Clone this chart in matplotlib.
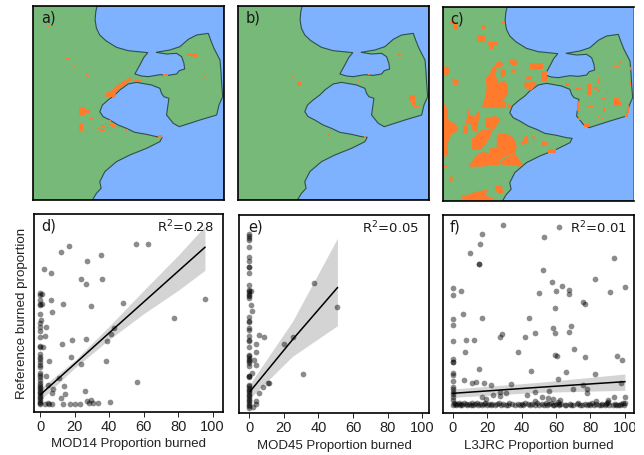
#!/usr/bin/env python3
"""Burned area maps and scatter comparison against reference proportion."""

import matplotlib
matplotlib.use("Agg")
import matplotlib.pyplot as plt
from matplotlib.patches import Polygon, Rectangle

# coastline of the sea polygon, map units (same for the three maps)
coast_x = [232, 228, 226, 230, 240, 258, 290, 325, 384, 372, 360, 345, 365, 385, 420, 445, 470, 478, 494,
           492, 485, 470, 440, 408, 450, 480, 505, 530, 565, 572, 582, 600, 603, 605, 608, 597, 590, 540,
           478, 460, 440, 447, 432, 425, 420, 395, 350, 325, 300, 285, 265, 248, 240, 250, 270, 295, 320,
           345, 380, 410, 427, 420, 380, 330, 290, 255, 240, 244, 230, 218, 612, 612]
coast_y = [18, 35, 60, 85, 105, 122, 142, 152, 158, 172, 195, 222, 228, 230, 224, 226, 222, 212, 207,
           190, 170, 160, 162, 157, 150, 140, 118, 105, 100, 120, 145, 180, 215, 250, 290, 315, 345, 360,
           380, 370, 345, 295, 290, 280, 265, 255, 247, 252, 270, 285, 300, 315, 335, 350, 360, 375, 385,
           397, 403, 410, 412, 425, 445, 465, 485, 515, 545, 565, 580, 600, 600, 18]

# burned patches: x, y, w, h in map units
burn_a = [(82, 77, 5, 5), (140, 174, 11, 5), (160, 199, 5, 4), (183, 126, 5, 4), (198, 220, 8, 5),
          (202, 227, 6, 6), (502, 160, 30, 7), (518, 166, 14, 8), (430, 221, 14, 6), (548, 227, 7, 7),
          (341, 240, 24, 7), (177, 322, 20, 24), (190, 330, 20, 10), (212, 353, 8, 7),
          (177, 372, 12, 22), (292, 380, 8, 5), (318, 388, 7, 5), (413, 405, 12, 8),
          (222, 392, 6, 4), (232, 384, 10, 4), (244, 376, 12, 4), (252, 368, 14, 4), (240, 388, 16, 4),
          (258, 380, 14, 4), (268, 372, 18, 4), (262, 386, 12, 5), (268, 360, 6, 5), (278, 378, 8, 4)]
burn_b = [(201, 229, 8, 5), (216, 245, 12, 14), (308, 248, 8, 4), (397, 240, 6, 4), (428, 222, 8, 4),
          (519, 163, 10, 6), (553, 284, 18, 18), (560, 306, 10, 10), (566, 317, 18, 5), (309, 402, 7, 5),
          (418, 409, 5, 5)]
burn_c = [(60, 60, 18, 8), (70, 70, 14, 14), (155, 72, 14, 12), (215, 62, 10, 6), (142, 102, 24, 20),
          (176, 122, 30, 12), (178, 130, 12, 14), (302, 186, 38, 18), (334, 210, 16, 30), (336, 422, 16, 14),
          (355, 445, 22, 12), (405, 246, 12, 8), (438, 262, 16, 6), (470, 248, 12, 34), (490, 258, 14, 6),
          (500, 215, 14, 4), (505, 230, 4, 16), (552, 195, 16, 4), (568, 182, 5, 8), (598, 198, 4, 8),
          (598, 240, 5, 12), (552, 290, 14, 24), (562, 304, 10, 10), (590, 315, 8, 20), (585, 335, 8, 12),
          (442, 300, 6, 30), (470, 316, 20, 3), (512, 292, 12, 4), (520, 320, 4, 14), (500, 345, 8, 4),
          (530, 270, 5, 10), (505, 265, 4, 8), (462, 368, 18, 10), (444, 350, 6, 8), (515, 350, 5, 5),
          (128, 412, 30, 36), (150, 395, 30, 20), (181, 440, 30, 40), (205, 400, 20, 30), (170, 470, 40, 22),
          (100, 375, 15, 22), (170, 300, 60, 20), (206, 248, 30, 34), (150, 470, 24, 26), (225, 470, 30, 22)]

# larger burned areas as outlines, map units
blobs_a = [[(257, 278), (275, 272), (300, 250), (330, 232), (335, 240), (305, 262), (288, 278), (288, 292), (258, 290)]]
blobs_c = [[(196, 194), (201, 207), (196, 222), (206, 242), (206, 257), (236, 277), (221, 297), (196, 312), (176, 317),
            (156, 322), (166, 287), (171, 257), (166, 232), (181, 217), (186, 202)],
           [(196, 185), (216, 182), (221, 192), (206, 202), (196, 197)],
           [(239, 175), (259, 177), (263, 192), (249, 195), (239, 185)],
           [(213, 207), (228, 205), (228, 222), (214, 232)],
           [(211, 242), (226, 239), (226, 255), (211, 257)],
           [(245, 205), (258, 205), (256, 215), (246, 215)],
           [(301, 192), (329, 185), (331, 202), (316, 207), (303, 202)],
           [(289, 227), (306, 225), (303, 237), (289, 237)],
           [(283, 245), (319, 242), (313, 259), (303, 269), (289, 262), (283, 255)],
           [(43, 195), (61, 202), (59, 217), (46, 225), (43, 217)],
           [(66, 232), (86, 237), (86, 252), (73, 252)],
           [(233, 309), (243, 312), (243, 322), (234, 322)],
           [(43, 307), (53, 322), (56, 357), (81, 372), (86, 387), (71, 397), (61, 407), (53, 432), (56, 462), (43, 467)],
           [(43, 492), (51, 492), (51, 499), (43, 499)],
           [(116, 322), (121, 342), (136, 347), (146, 329), (151, 342), (146, 362), (141, 392), (126, 387), (123, 367),
            (106, 372), (111, 352)],
           [(166, 352), (196, 345), (211, 352), (203, 372), (191, 387), (166, 377)],
           [(156, 387), (191, 382), (179, 412), (166, 432), (151, 447), (131, 447), (126, 437), (131, 412), (143, 397)],
           [(201, 407), (226, 397), (251, 409), (261, 437), (256, 457), (226, 467), (211, 477), (201, 447)],
           [(141, 462), (161, 452), (176, 457), (196, 467), (181, 482), (161, 497), (116, 497), (126, 482)],
           [(256, 457), (266, 472), (279, 492), (271, 497), (241, 492), (221, 492), (206, 487), (226, 472)],
           [(281, 419), (286, 402), (293, 405), (296, 425), (276, 432), (269, 427)],
           [(304, 405), (316, 407), (313, 417)],
           [(61, 527), (68, 525), (69, 542), (59, 542)],
           [(196, 555), (216, 552), (221, 575), (209, 579), (196, 567)],
           [(96, 585), (121, 579), (141, 572), (176, 565), (166, 582), (191, 592), (186, 600), (111, 600), (96, 592)]]

x_d = [12, 16.8, 55.5, 62.5, 35, 27.3, 2.3, 6.2, 23.4, 35.8, 26.3, 95.5, 6.4, 13.3, 48.2, 29.6, 6.6,
       77.4, 3.1, 43, 2.5, 41, 38.7, 18.4, 26.7, 12.6, 1.7, 18, 5.2, 38.3, 23.6, 3.3, 11, 56, 4.3, 13.7,
       7.3, 25.7, 7, 14.3, 11.8, 27, 29.6, 28, 30.6, 33.7, 40.6, 13, 17.2, 20, 23.2, 6.6, 4.3, 5.2, 2.7, 0.8, 0.8, 0.4]
y_d = [91, 94.4, 96, 95.6, 89.4, 85.8, 80.8, 78.2, 75, 74.8, 72, 62.8, 62, 60, 60.4, 58.4, 55,
       51.4, 46, 45.6, 40.8, 41.8, 37.8, 38, 38.6, 35.8, 34, 28, 25.4, 25.6, 23.8, 16.6, 15.2, 13, 11.2, 10.4,
       9, 7.8, 6.2, 5.8, 3.6, 1.8, 2.4, 0.6, 0.2, 0.2, 1, 0, 0, 0, 0, 0, 0.6, 0, 0, 66, 60, 50]
zero_d = [66.6, 65.2, 62.2, 60, 59.2, 53.8, 48.2, 46.2, 43.8, 40.2, 34.6, 34.2, 29.8, 28.2, 26.6, 25.2, 23.2,
          22.2, 18.2, 17.2, 16.2, 14.2, 12.2, 11.2, 10.2, 9.2, 8.2, 7.2, 6.2, 5.2, 4.2, 3.2, 2.2, 1.2, 0.2, 0]

zero_e = [104.6, 103.4, 102, 100.6, 96.6, 90.6, 88, 84.6, 84.6, 81.2, 73.8, 71, 70, 69, 68, 67, 66,
          54.6, 52, 51.4, 48, 46.6, 43.4, 41, 40.4, 36.6, 32, 31, 30, 29, 28, 27, 25.4, 19.4, 19, 18.6,
          14, 13, 12, 11, 10, 9, 8, 7, 6, 5, 4, 3, 2, 1, 0]
x_e = [1.2, 0.8, 1.4, 5.4, 8.7, 3.7, 3.9, 2.5, 4, 1.5, 37.3, 51, 25, 20.3, 31, 11.2, 10.8, 8.1, 5.4, 3.7, 3.7, 1.9]
y_e = [70, 62, 58, 43.8, 42.8, 38.6, 33.4, 28.6, 25.8, 21, 75.2, 60.6, 42.6, 38.6, 20.4, 15.2, 15, 12.6, 9, 4.4, 2.4, 0.6]

x_f = [29.4, 61.9, 17, 52.8, 16, 10.2, 93.6, 15.1, 15.1, 52.6, 82.8, 57.6, 63.4, 100, 0, 4.8, 67.5, 60.1, 91.1,
       50.1, 67.5, 0, 75.8, 76.8, 59.2, 6, 44.3, 17, 0, 0, 68.7, 58.4, 67.3, 59.4, 47.8, 28.6, 27.7, 42, 0, 7.7,
       12.2, 70.4, 38.1, 7.2, 59.4, 60.5, 95.2, 76.8, 98.4, 0, 0, 0, 15.5, 45.6, 66, 82.4, 0, 0, 60.9, 6.4, 0, 13.7,
       11.4, 18.2, 22, 33.8, 75.8, 97.7, 69.6, 47.6, 55.9, 77.8, 78.3, 0, 0, 0, 0, 30.7, 27.7, 23.6, 27.7, 43.1, 16.8,
       19.3, 51.8, 55.3, 58.4, 62.5, 93.4, 100, 90.3, 83, 47.8, 0, 0]
y_f = [107.8, 106.6, 102.6, 100.8, 96.8, 91.2, 88.2, 84.6, 84.6, 81.2, 75.4, 74, 71.4, 71, 70, 68.6, 69.2, 68.4, 68,
       67.2, 66.8, 66, 62, 60.8, 58.2, 54.6, 52.4, 52.4, 51.6, 48, 47.4, 46.2, 43.8, 43, 43, 42.8, 40.8, 40.6, 38.6, 38.8,
       38.8, 33.4, 32, 31.8, 30.2, 29.2, 29.4, 29, 26.8, 27.4, 26, 25.6, 21.4, 20.4, 19.6, 18.8, 19, 18.2, 15.4, 15, 14.2, 13.8,
       13.2, 13, 11.8, 12.6, 12, 13.2, 9.6, 7.8, 8.4, 9.4, 7.2, 10.6, 9.6, 8, 6.6, 7.2, 8, 6, 5.2, 6, 4.6, 3.8, 4.8, 4.2, 3.6, 3.2, 4.6, 4.8, 3, 2.6, 2.4, 4.6, 3.2]
floor_f = [0, 0.6, 1.2, 2, 2.8, 3.4, 4, 5, 5.6, 6.5, 7.5, 8.5, 9.5, 10.5, 11, 12, 13, 14, 15, 16, 17, 18, 19, 20, 21, 22,
           23, 24.5, 26, 27, 28, 29.5, 31, 32, 33, 34.5, 36, 38, 39, 40, 41, 42, 44, 45, 46, 48, 49, 50, 52, 53, 54, 55,
           56, 57, 58, 59, 60, 61, 61.5, 62, 63, 65, 66, 68, 69, 70, 72, 73, 74, 75, 77, 78, 79, 80, 81, 82, 83, 85, 86, 87,
           88.5, 89, 89.5, 90, 91, 93, 94, 95, 96, 97, 98, 99, 99.5, 100]
floor_fy = [0, 1, 0.4, 0, 0.6, 1, 0.2, 0.6, 0, 1, 0.4, 0, 0.8, 0.2, 1.2, 0, 0.4, 1, 0.2, 0.6, 0, 0.4, 1, 0, 0.6, 0.2,
            0.8, 0, 0.4, 1, 0, 0.6, 0.2, 0, 1, 0.4, 0, 0.8, 0.2, 0.6, 0, 1.2, 0.4, 0, 0.8, 0.2, 1.4, 0, 0.6, 0.2, 1, 0,
            0.4, 1.2, 0.2, 0, 0.8, 1.6, 0.4, 0, 0.6, 0.2, 0, 0.8, 0.2, 0, 0.4, 1, 0, 0.2, 0.6, 0, 0.4, 0, 1, 0, 0.4, 0.2, 0, 0.6,
            0, 0.4, 1.2, 1.8, 0.2, 0, 0.6, 0, 0.2, 0, 0.6, 1, 0.2, 1.4]

# fit lines and confidence bands
fit_x_d = [0, 20, 40, 60, 80, 95.5]
fit_d = [5.4, 23.9, 42.5, 61, 79.5, 93.8]
low_d = [2, 21.5, 38.5, 54, 68, 80]
up_d = [9, 26, 46.5, 68, 89, 106.6]
fit_x_e = [0.5, 25, 51]
fit_e = [10, 41, 72.2]
low_e = [6, 31, 49.4]
up_e = [14.6, 52, 101.8]
fit_x_f = [0, 50, 100]
fit_f = [7, 10.6, 14]
low_f = [4.6, 7.6, 8.8]
up_f = [9.6, 13.6, 18.6]

GREEN = "#76b979"
BLUE = "#7eb2ff"
ORANGE = "#ff7a2c"
W, H = 644, 455
SANS = "Liberation Sans"


def ax_px(left, top, right, bottom):
    return [left / W, 1 - bottom / H, (right - left) / W, (bottom - top) / H]


def draw_map(box, patches, blobs, label):
    ax = fig.add_axes(ax_px(*box), facecolor=GREEN)
    ax.add_patch(Polygon(list(zip(coast_x, coast_y)), closed=True, facecolor=BLUE,
                         edgecolor="#2f4f4f", linewidth=0.8, zorder=1))
    for x, y, w, h in patches:
        ax.add_patch(Rectangle((x, y), w, h, facecolor=ORANGE, edgecolor="none", zorder=2))
    for blob in blobs:
        ax.add_patch(Polygon(blob, closed=True, facecolor=ORANGE, edgecolor="none", zorder=2))
    ax.set_xlim(40, 612)
    ax.set_ylim(600, 18)
    ax.set_xticks([])
    ax.set_yticks([])
    for spine in ax.spines.values():
        spine.set_linewidth(1.2)
    ax.text(0.04, 0.94, label, transform=ax.transAxes, fontsize=10.5, ha="left", va="center", color="#1a1a1a")
    return ax


def draw_scatter(box, xs, ys, xlim, ylim, fit, low, up, fit_x, xlabel, label, label_x, r2, r2_x):
    ax = fig.add_axes(ax_px(*box))
    ax.fill_between(fit_x, low, up, color="#d4d4d4", linewidth=0, zorder=1)
    ax.scatter(xs, ys, s=17, color="black", alpha=0.45, linewidths=0, zorder=2)
    ax.plot(fit_x, fit, color="black", linewidth=1.1, zorder=3)
    ax.set_xlim(*xlim)
    ax.set_ylim(*ylim)
    ax.set_xticks([0, 20, 40, 60, 80, 100])
    ax.set_yticks([])
    ax.tick_params(axis="x", length=3.5, width=0.7, pad=2.5, colors="#222222")
    for tick in ax.get_xticklabels():
        tick.set_fontfamily(SANS)
        tick.set_fontsize(10.5)
    ax.set_xlabel(xlabel, fontsize=9.5, labelpad=3, color="#222222", fontfamily=SANS)
    for spine in ax.spines.values():
        spine.set_linewidth(1.2)
    ax.text(label_x, 0.94, label, transform=ax.transAxes, fontsize=10.5, ha="left", va="center", color="#1a1a1a")
    ax.text(r2_x, 0.935, r"R$^2$=" + r2, transform=ax.transAxes, fontsize=9.5, ha="left", va="center", color="#1a1a1a")
    return ax


fig = plt.figure(figsize=(W / 100, H / 100), dpi=100)
draw_map((33, 6, 224, 200), burn_a, blobs_a, "a)")
draw_map((238, 6, 429, 200), burn_b, [], "b)")
ax_c = draw_map((443, 7, 634, 201), burn_c, blobs_c, "c)")
ax_c.spines["right"].set_visible(False)

ax_d = draw_scatter((34, 214, 223, 412), x_d + [0] * len(zero_d), y_d + zero_d, (-3.66, 106), (-5, 113.8),
                    fit_d, low_d, up_d, fit_x_d, "MOD14 Proportion burned", "d)", 0.037, "0.28", 0.65)
ax_d.set_ylabel("Reference burned proportion", fontsize=9.6, labelpad=4, color="#222222", fontfamily=SANS)
draw_scatter((239, 215, 429, 413), x_e + [0] * len(zero_e), y_e + zero_e, (-5.97, 104), (-3, 115.8),
             fit_e, low_e, up_e, fit_x_e, "MOD45 Proportion burned", "e)", 0.047, "0.05", 0.647)
draw_scatter((443, 215, 634, 413), x_f + floor_f, y_f + floor_fy, (-5.6, 105.3), (-4.8, 114),
             fit_f, low_f, up_f, fit_x_f, "L3JRC Proportion burned", "f)", 0.035, "0.01", 0.665)

# the last tick label is cut at the picture edge in the source figure
fig.add_artist(Rectangle((635 / W, 0), 9 / W, 1, transform=fig.transFigure, facecolor="white",
                         edgecolor="none", zorder=10))

fig.savefig("out.png", dpi=100)
